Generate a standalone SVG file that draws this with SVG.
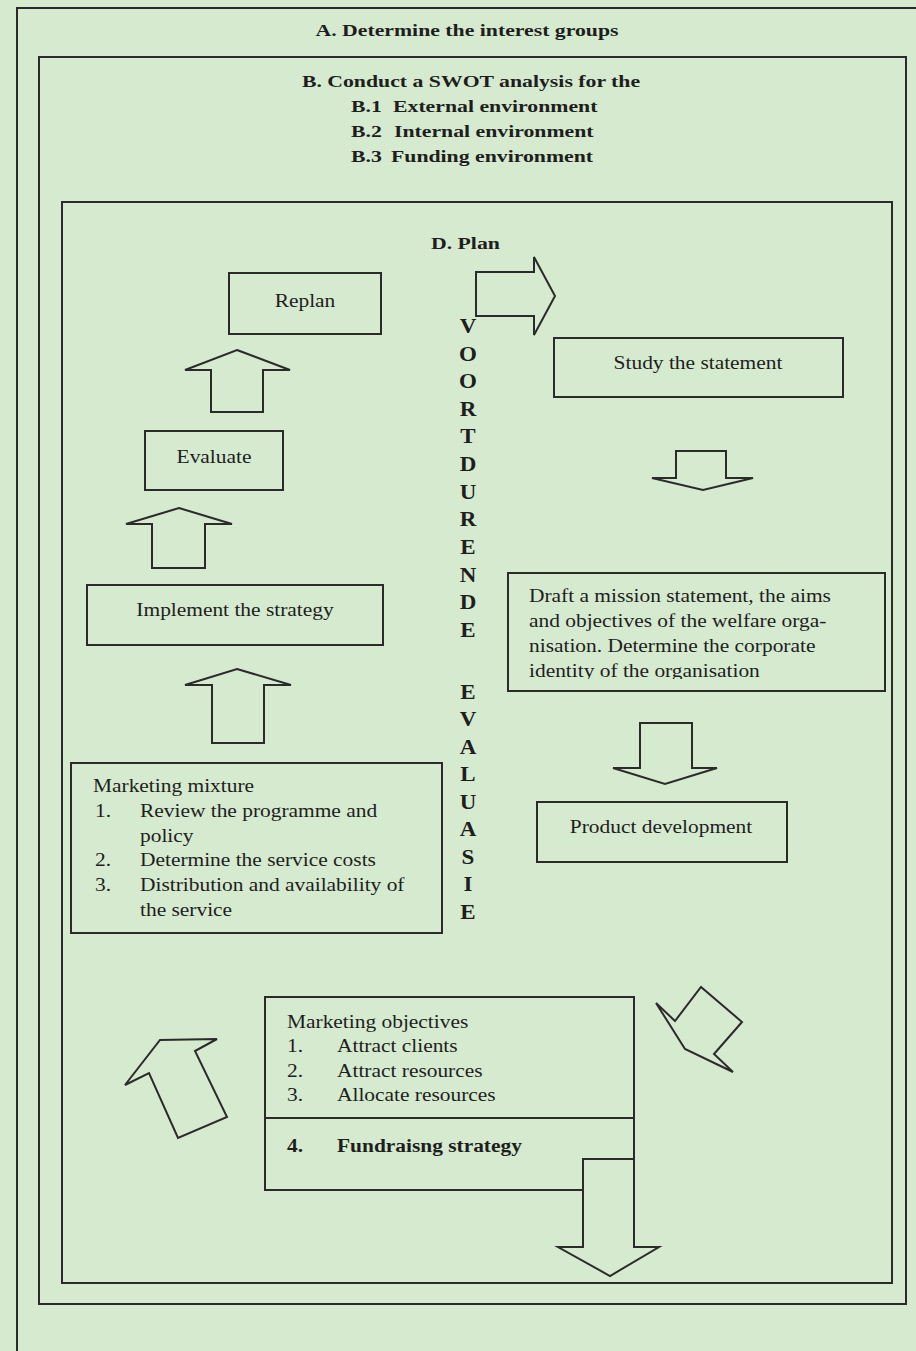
<svg xmlns="http://www.w3.org/2000/svg" width="916" height="1351" viewBox="0 0 916 1351">
<style>
.ln{fill:none;stroke:#2b2b2b;stroke-width:2;stroke-linejoin:miter}
.bx{fill:none;stroke:#2b2b2b;stroke-width:2}
.b{font-family:"Liberation Serif","Times New Roman",serif;font-weight:bold;font-size:17px;fill:#1e1e1e}
.r{font-family:"Liberation Serif","Times New Roman",serif;font-size:18px;fill:#1e1e1e}
.v{font-family:"Liberation Serif","Times New Roman",serif;font-weight:bold;font-size:20px;fill:#1e1e1e;text-anchor:middle}
.m{text-anchor:middle}
</style>
<defs>
<clipPath id="draftclip"><rect x="500" y="570" width="390" height="109"/></clipPath>
</defs>
<rect x="0" y="0" width="916" height="1351" fill="#d5eacf"/>

<g id="frameA">
<path class="ln" d="M916,8 H17 V1351"/>
<text class="b m" transform="matrix(1.28,0,0,1,467,36)">A.  Determine the interest groups</text>
</g>

<g id="frameB">
<rect class="bx" x="39" y="57" width="867" height="1247"/>
<text class="b m" transform="matrix(1.28,0,0,1,471,87)">B.  Conduct a SWOT analysis for the</text>
<text class="b" transform="matrix(1.28,0,0,1,351,112)">B.1</text>
<text class="b" transform="matrix(1.28,0,0,1,393,112)">External environment</text>
<text class="b" transform="matrix(1.28,0,0,1,351,137)">B.2</text>
<text class="b" transform="matrix(1.28,0,0,1,394,137)">Internal environment</text>
<text class="b" transform="matrix(1.28,0,0,1,351,162)">B.3</text>
<text class="b" transform="matrix(1.28,0,0,1,391,162)">Funding environment</text>
</g>

<g id="frameD">
<rect class="bx" x="62" y="202" width="830" height="1081"/>
<text class="b" fill="#3a3a3a" transform="matrix(1.28,0,0,1,431,249)">D.  Plan</text>
</g>

<g id="vertical-label">
<text class="v" transform="matrix(1.15,0,0,1,468,333)">V</text>
<text class="v" transform="matrix(1.15,0,0,1,468,361)">O</text>
<text class="v" transform="matrix(1.15,0,0,1,468,388)">O</text>
<text class="v" transform="matrix(1.15,0,0,1,468,416)">R</text>
<text class="v" transform="matrix(1.15,0,0,1,468,443)">T</text>
<text class="v" transform="matrix(1.15,0,0,1,468,471)">D</text>
<text class="v" transform="matrix(1.15,0,0,1,468,499)">U</text>
<text class="v" transform="matrix(1.15,0,0,1,468,526)">R</text>
<text class="v" transform="matrix(1.15,0,0,1,468,554)">E</text>
<text class="v" transform="matrix(1.15,0,0,1,468,582)">N</text>
<text class="v" transform="matrix(1.15,0,0,1,468,609)">D</text>
<text class="v" transform="matrix(1.15,0,0,1,468,637)">E</text>
<text class="v" transform="matrix(1.15,0,0,1,468,699)">E</text>
<text class="v" transform="matrix(1.15,0,0,1,468,726)">V</text>
<text class="v" transform="matrix(1.15,0,0,1,468,754)">A</text>
<text class="v" transform="matrix(1.15,0,0,1,468,781)">L</text>
<text class="v" transform="matrix(1.15,0,0,1,468,809)">U</text>
<text class="v" transform="matrix(1.15,0,0,1,468,836)">A</text>
<text class="v" transform="matrix(1.15,0,0,1,468,864)">S</text>
<text class="v" transform="matrix(1.15,0,0,1,468,891)">I</text>
<text class="v" transform="matrix(1.15,0,0,1,468,919)">E</text>
</g>

<g id="replan">
<rect class="bx" x="229" y="273" width="152" height="61"/>
<text class="r m" transform="matrix(1.19,0,0,1,305,307)">Replan</text>
</g>

<g id="evaluate">
<rect class="bx" x="145" y="431" width="138" height="59"/>
<text class="r m" transform="matrix(1.19,0,0,1,214,463)">Evaluate</text>
</g>

<g id="implement">
<rect class="bx" x="87" y="585" width="296" height="60"/>
<text class="r m" transform="matrix(1.19,0,0,1,235,616)">Implement the strategy</text>
</g>

<g id="mixture">
<rect class="bx" x="71" y="763" width="371" height="170"/>
<text class="r" transform="matrix(1.19,0,0,1,93,792)">Marketing mixture</text>
<text class="r" transform="matrix(1.19,0,0,1,95,817)">1.</text>
<text class="r" transform="matrix(1.19,0,0,1,140,817)">Review the programme and</text>
<text class="r" transform="matrix(1.19,0,0,1,140,842)">policy</text>
<text class="r" transform="matrix(1.19,0,0,1,95,866)">2.</text>
<text class="r" transform="matrix(1.19,0,0,1,140,866)">Determine the service costs</text>
<text class="r" transform="matrix(1.19,0,0,1,95,891)">3.</text>
<text class="r" transform="matrix(1.19,0,0,1,140,891)">Distribution and availability of</text>
<text class="r" transform="matrix(1.19,0,0,1,140,916)">the service</text>
</g>

<g id="study">
<rect class="bx" x="554" y="338" width="289" height="59"/>
<text class="r m" transform="matrix(1.19,0,0,1,698,369)">Study the statement</text>
</g>

<g id="draft">
<rect class="bx" x="508" y="573" width="377" height="118"/>
<g clip-path="url(#draftclip)">
<text class="r" transform="matrix(1.19,0,0,1,529,602)">Draft a mission statement, the aims</text>
<text class="r" transform="matrix(1.19,0,0,1,529,627)">and objectives of the welfare orga-</text>
<text class="r" transform="matrix(1.19,0,0,1,529,652)">nisation.  Determine the corporate</text>
<text class="r" transform="matrix(1.19,0,0,1,529,677)">identity of the organisation</text>
</g>
</g>

<g id="product">
<rect class="bx" x="537" y="802" width="250" height="60"/>
<text class="r m" transform="matrix(1.19,0,0,1,661,833)">Product development</text>
</g>

<g id="objectives">
<path class="ln" d="M583,1190 H265 V997 H634 V1159"/>
<path class="ln" d="M265,1118 H634"/>
<text class="r" transform="matrix(1.19,0,0,1,287,1028)">Marketing objectives</text>
<text class="r" transform="matrix(1.19,0,0,1,287,1052)">1.</text>
<text class="r" transform="matrix(1.19,0,0,1,337,1052)">Attract clients</text>
<text class="r" transform="matrix(1.19,0,0,1,287,1077)">2.</text>
<text class="r" transform="matrix(1.19,0,0,1,337,1077)">Attract resources</text>
<text class="r" transform="matrix(1.19,0,0,1,287,1101)">3.</text>
<text class="r" transform="matrix(1.19,0,0,1,337,1101)">Allocate resources</text>
<text class="r" font-weight="bold" transform="matrix(1.19,0,0,1,287,1152)">4.</text>
<text class="r" font-weight="bold" transform="matrix(1.19,0,0,1,337,1152)">Fundraisng strategy</text>
</g>

<g id="connectors">
<path class="ln" d="M476,272 H534 V257 L555,296 L534,335 V316 H476 Z"/>
<path class="ln" d="M676,451 H726 V478 H753 L703,490 L652,478 H676 Z"/>
<path class="ln" d="M640,723 H692 V768 H717 L665,784 L613,768 H640 Z"/>
<path class="ln" d="M583,1159 H634 V1247 H659 L610,1276 L558,1247 H583 Z"/>
<path class="ln" d="M656,1003 L675,1021 L701,987 L742,1022 L714,1054 L733,1072 L685,1049 Z"/>
<path class="ln" d="M125,1085 L160,1040 L217,1039 L195,1051 L227,1117 L178,1138 L149,1073 Z"/>
<path class="ln" d="M237,669 L291,685 H264 V743 H212 V685 H185 Z"/>
<path class="ln" d="M179,508 L232,524 H205 V568 H152 V524 H126 Z"/>
<path class="ln" d="M237,350 L290,370 H263 V412 H211 V370 H185 Z"/>
</g>
</svg>
